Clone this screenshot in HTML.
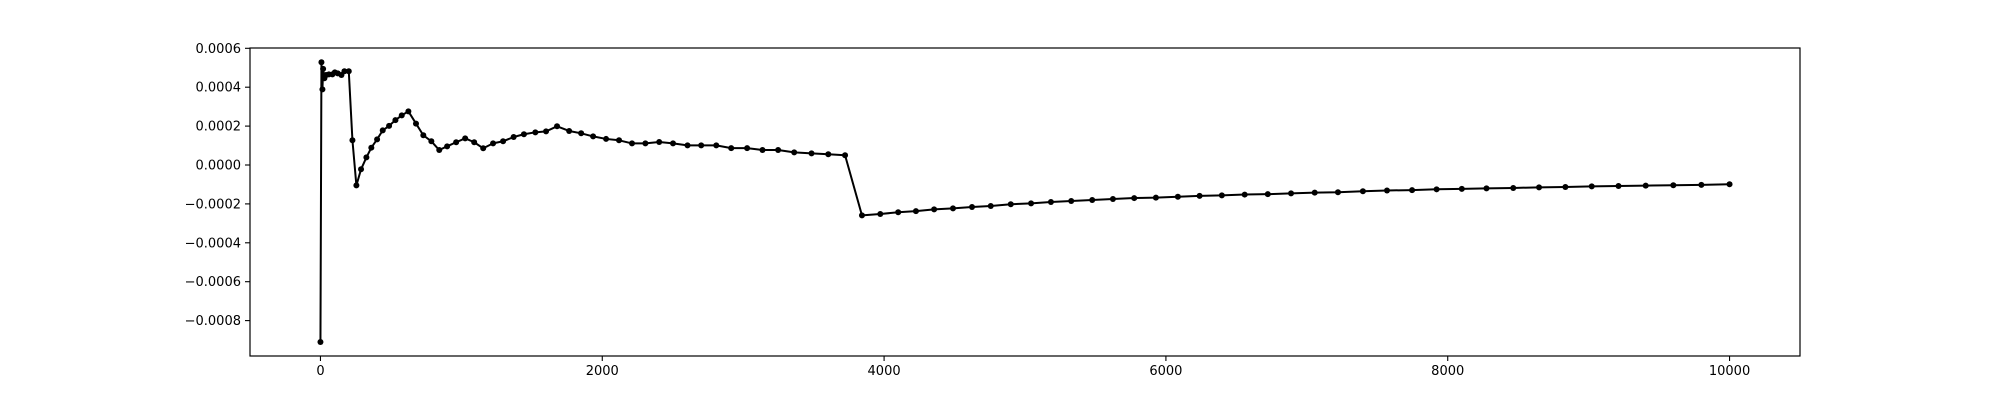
<!DOCTYPE html>
<html><head><meta charset="utf-8"><style>
body{margin:0;background:#fff;}
svg{display:block;font-family:"DejaVu Sans","Liberation Sans",sans-serif;}
</style></head>
<body>
<svg id="chart" width="2000" height="400" xmlns="http://www.w3.org/2000/svg">
<rect x="0" y="0" width="2000" height="400" fill="#fff"/>
<g id="plot"></g>
</svg>
<script>
const xValues = [0,7,14,19,28,40,60,85,102,123,149,170,201,227,255,288,326,361,402,442,487,532,577,624,678,730,787,843,899,963,1027,1091,1155,1225,1296,1371,1444,1525,1601,1679,1765,1850,1935,2027,2119,2211,2306,2404,2502,2605,2702,2809,2915,3028,3137,3248,3362,3485,3604,3723,3843,3973,4100,4226,4355,4489,4624,4757,4899,5043,5184,5328,5477,5624,5775,5929,6085,6239,6397,6559,6723,6888,7056,7221,7398,7569,7747,7921,8100,8275,8465,8648,8835,9022,9212,9405,9601,9800,10000];
const yValues = [-0.00091,0.000528,0.000389,0.000494,0.000446,0.000463,0.000466,0.000466,0.000476,0.000471,0.000463,0.000482,0.000482,0.000127,-0.000105,-0.000022,0.000039,0.000089,0.000132,0.000178,0.000201,0.000231,0.000255,0.000276,0.000213,0.000153,0.000122,0.000077,0.000096,0.000117,0.000137,0.000117,0.000086,0.000111,0.000122,0.000144,0.000158,0.000168,0.000173,0.000199,0.000175,0.000163,0.000147,0.000134,0.000127,0.000111,0.000111,0.000118,0.000111,0.000101,0.000101,0.000101,0.000087,0.000087,0.000077,0.000077,0.000065,0.00006,0.000055,0.00005,-0.000259,-0.000252,-0.000243,-0.000237,-0.000228,-0.000223,-0.000216,-0.000211,-0.000202,-0.000197,-0.00019,-0.000185,-0.00018,-0.000175,-0.00017,-0.000168,-0.000163,-0.000159,-0.000156,-0.000152,-0.000150,-0.000146,-0.000142,-0.000140,-0.000135,-0.000131,-0.000129,-0.000125,-0.000123,-0.000120,-0.000118,-0.000115,-0.000113,-0.000110,-0.000108,-0.000106,-0.000104,-0.000102,-0.000099];
const xTicks = [0,2000,4000,6000,8000,10000];
const xTickLabels = ["0","2000","4000","6000","8000","10000"];
const yTicks = [0.0006,0.0004,0.0002,0,-0.0002,-0.0004,-0.0006,-0.0008];
const yTickLabels = ["0.0006","0.0004","0.0002","0.0000","\u22120.0002","\u22120.0004","\u22120.0006","\u22120.0008"];

const L=250,R=1800,T=48,B=356;
const xMin=-500,xMax=10500;
const yTopVal=0.0006+ (49-48)/194500, yPerPx=0.0002/38.9;
function xs(v){return L+(v-xMin)/(xMax-xMin)*(R-L);}
function ys(v){return 165-v/yPerPx;}
const NS="http://www.w3.org/2000/svg";
const g=document.getElementById('plot');
function mk(t,a){const e=document.createElementNS(NS,t);for(const k in a)e.setAttribute(k,a[k]);return e;}

const frame=mk('rect',{x:L,y:T,width:R-L,height:B-T,fill:'none',stroke:'#000','stroke-width':1.2});


g.appendChild(frame);

xTicks.forEach((v,i)=>{
  const x=xs(v);
  const t=mk('line',{x1:x,x2:x,y1:B,y2:B+5,stroke:'#000','stroke-width':1.1});
  
  
  g.appendChild(t);
  const tx=mk('text',{x:x,y:B+19,'text-anchor':'middle','font-size':13});
  
  
  tx.textContent=xTickLabels[i];
  g.appendChild(tx);
});
yTicks.forEach((v,i)=>{
  const y=ys(v);
  const t=mk('line',{x1:L-5,x2:L,y1:y,y2:y,stroke:'#000','stroke-width':1.1});
  
  
  g.appendChild(t);
  const tx=mk('text',{x:L-9,y:y+4.5,'text-anchor':'end','font-size':13});
  
  
  tx.textContent=yTickLabels[i];
  g.appendChild(tx);
});

const pts=xValues.map((x,i)=>xs(x).toFixed(2)+','+ys(yValues[i]).toFixed(2)).join(' ');
const line=mk('polyline',{points:pts,fill:'none',stroke:'#000','stroke-width':2,'stroke-linejoin':'round'});


g.appendChild(line);
xValues.forEach((x,i)=>{
  const c=mk('circle',{cx:xs(x),cy:ys(yValues[i]),r:3,fill:'#000'});
  
  
  g.appendChild(c);
});
</script>
</body></html>
